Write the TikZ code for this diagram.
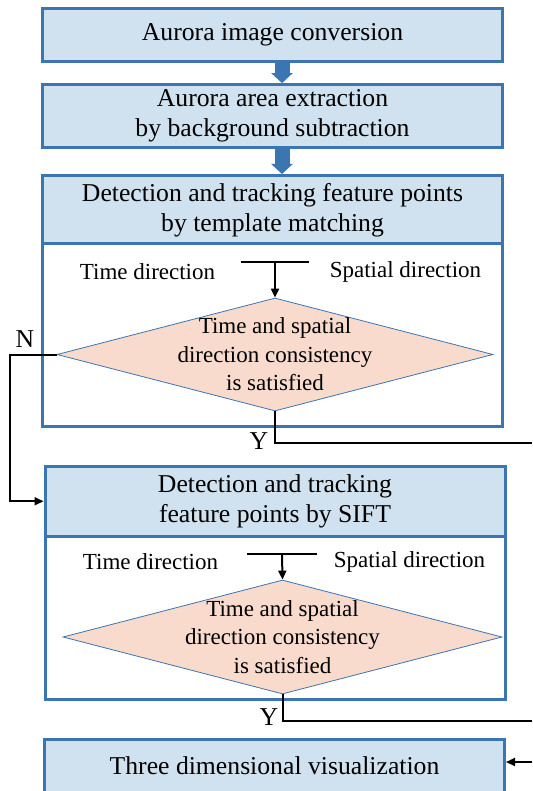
\documentclass[tikz,border=0pt]{standalone}
\usepackage{fontspec}
\setmainfont{Liberation Serif}
\usetikzlibrary{arrows.meta, positioning, shapes.geometric}

\definecolor{boxblue}{HTML}{D0E2EF}
\definecolor{edgeblue}{HTML}{3B76B2}
\definecolor{decpink}{HTML}{F8DBCC}
\newcommand{\bigtxt}{\fontsize{25.7}{30}\selectfont}
\newcommand{\smalltxt}{\fontsize{23}{28.5}\selectfont}

\begin{document}
\begin{tikzpicture}[
      x=1pt, y=-1pt,
      stage/.style={draw=edgeblue, line width=3pt, fill=boxblue, minimum width=460pt, inner sep=0pt, align=center, font=\bigtxt},
      frame/.style={draw=edgeblue, line width=3pt, fill=white, minimum width=460pt},
      cond/.style={diamond, draw=edgeblue, line width=0.8pt, fill=decpink, inner sep=0pt},
      side/.style={inner sep=0pt, font=\smalltxt},
      yn/.style={inner sep=0pt, font=\bigtxt},
      blockarr/.style={edgeblue, line width=15pt, -{Triangle[width=21pt, length=10pt]}},
      arr/.style={line width=2pt, -{Triangle[length=9pt, width=8pt]}},
      wire/.style={line width=2pt}
    ]
    \useasboundingbox (0,0) rectangle (532,791);
    \clip (0,0) rectangle (532,791);

    \node[stage, minimum height=53pt, anchor=north] (conv) at (272.5,6.8) {Aurora image conversion};
    \node[stage, minimum height=63pt, below=20.3pt of conv] (extract) {Aurora area extraction\\by background subtraction};
    \draw[blockarr] ([xshift=9.5pt]conv.south) -- ([xshift=9.5pt]extract.north);

    % template matching block
    \node[frame, minimum height=251pt, anchor=north] (frame1) at (272.5,174) {};
    \node[stage, minimum height=68.5pt, anchor=north] (head1) at (frame1.north) {Detection and tracking feature points\\by template matching};
    \draw[blockarr] ([xshift=9.5pt]extract.south) -- ([xshift=9.5pt]head1.north);
    \node[side] (time1) at (147.5,272) {Time direction};
    \node[side] (space1) at (405.5,272) {Spatial direction};
    \coordinate (tee1) at (275,262);
    \node[cond, minimum width=436pt, minimum height=113pt,
      label={[align=center, font=\smalltxt]center:Time and spatial\\direction consistency\\is satisfied}] (check1) at (275,354.5) {};
    \draw[wire] ([xshift=-34pt]tee1) -- ([xshift=34pt]tee1);
    \draw[arr] (tee1) -- (check1.north);

    % SIFT block
    \node[frame, minimum height=233pt, anchor=north] (frame2) at (275,465) {};
    \node[stage, minimum height=69.5pt, anchor=north] (head2) at (frame2.north) {Detection and tracking\\feature points by SIFT};
    \node[side] (time2) at (150.5,562) {Time direction};
    \node[side] (space2) at (409.5,562) {Spatial direction};
    \coordinate (tee2) at (282,554);
    \node[cond, minimum width=439pt, minimum height=114pt,
      label={[align=center, font=\smalltxt]center:Time and spatial\\direction consistency\\is satisfied}] (check2) at (282.5,637) {};
    \draw[wire] ([xshift=-35pt]tee2) -- ([xshift=35pt]tee2);
    \draw[arr] (tee2) -- (check2.north);

    \node[stage, minimum height=53pt, anchor=north] (final) at (274.5,738) {Three dimensional visualization};

    % branches
    \node[yn] (no1) at (25,339) {N};
    \draw[arr] (check1.west) -- ++(-47,0) |- (head2.west);
    \coordinate (yes1) at (532,443);
    \node[yn] (y1) at (259,441) {Y};
    \draw[wire] (check1.south) |- (yes1);
    \coordinate (yes2) at (532,721);
    \node[yn] (y2) at (269,717) {Y};
    \draw[wire] (check2.south) |- (yes2);
    \coordinate (into) at (532,762);
    \draw[arr] (into) -- (into -| final.east);
  \end{tikzpicture}
\end{document}
